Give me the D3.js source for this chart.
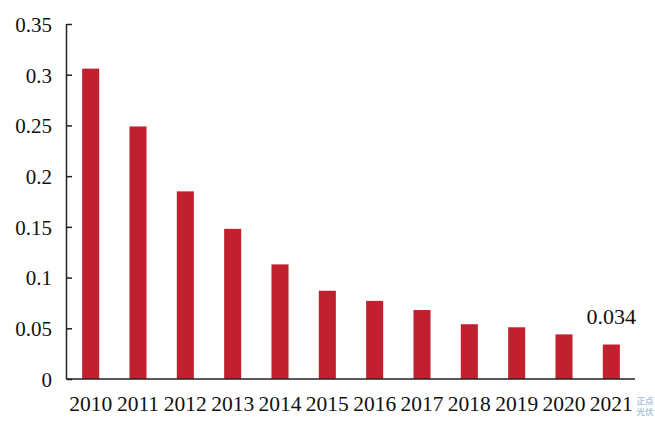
<!DOCTYPE html>
<html><head><meta charset="utf-8">
<script src="https://cdn.jsdelivr.net/npm/d3@7"></script>
<style>body{margin:0;background:#fff}svg{display:block}</style>
</head><body>
<script>
const years = ["2010","2011","2012","2013","2014","2015","2016","2017","2018","2019","2020","2021"];
const values = [0.306,0.249,0.185,0.148,0.113,0.087,0.077,0.068,0.054,0.051,0.044,0.034];
const yTicks = [0,0.05,0.1,0.15,0.2,0.25,0.3,0.35];
const yTickLabels = ["0","0.05","0.1","0.15","0.2","0.25","0.3","0.35"];
const annotation = {year:"2021", text:"0.034"};
const watermark = ["正点","光伏"];

const W=655,H=426;
const m={left:67,right:20,top:24,bottom:47};
const svg=d3.select("body").append("svg").attr("width",W).attr("height",H);
const x=d3.scaleBand().domain(years).range([m.left,635]).paddingInner(0.64).paddingOuter(0.32);
const y=d3.scaleLinear().domain([0,0.35]).range([379,24]);
const font="'Liberation Serif','Times New Roman',serif";

svg.append("g").selectAll("rect").data(values).join("rect")
  .attr("x",(d,i)=>x(years[i])).attr("width",x.bandwidth())
  .attr("y",d=>y(d)).attr("height",d=>y(0)-y(d)).attr("fill","#c1202f");

const ya=svg.append("g").attr("transform",`translate(${m.left},0)`)
  .call(d3.axisLeft(y).tickValues(yTicks).tickSize(-5).tickPadding(15).tickFormat((d,i)=>yTickLabels[i]));
ya.select(".domain").attr("stroke","#222").attr("stroke-width",1.5).attr("d",`M-0.5,${y(0.35)}V${y(0)}`);
ya.selectAll(".tick line").attr("stroke","#222").attr("stroke-width",1.5);
ya.selectAll("text").attr("font-family",font).attr("font-size",21).attr("fill","#111").attr("dy","0.35em");

const xa=svg.append("g").attr("transform",`translate(0,${y(0)})`)
  .call(d3.axisBottom(x).tickSize(0).tickPadding(17));
xa.select(".domain").attr("stroke","#222").attr("stroke-width",1.5).attr("d",`M${m.left-1},0H635`);
xa.selectAll("text").attr("font-family",font).attr("font-size",21.5).attr("fill","#111").attr("dy","0.71em");

svg.append("text").attr("x",x(annotation.year)+x.bandwidth()/2).attr("y",y(values[years.indexOf(annotation.year)])-21)
  .attr("text-anchor","middle").attr("font-family",font).attr("font-size",22).attr("fill","#111").text(annotation.text);

svg.append("g").selectAll("text").data(watermark).join("text")
  .attr("x",645).attr("y",(d,i)=>404+i*11).attr("text-anchor","middle")
  .attr("font-family","'Noto Sans CJK SC',sans-serif").attr("font-size",8.5).attr("font-weight","bold")
  .attr("fill","#a9c8dc").text(d=>d);
</script>
</body></html>
